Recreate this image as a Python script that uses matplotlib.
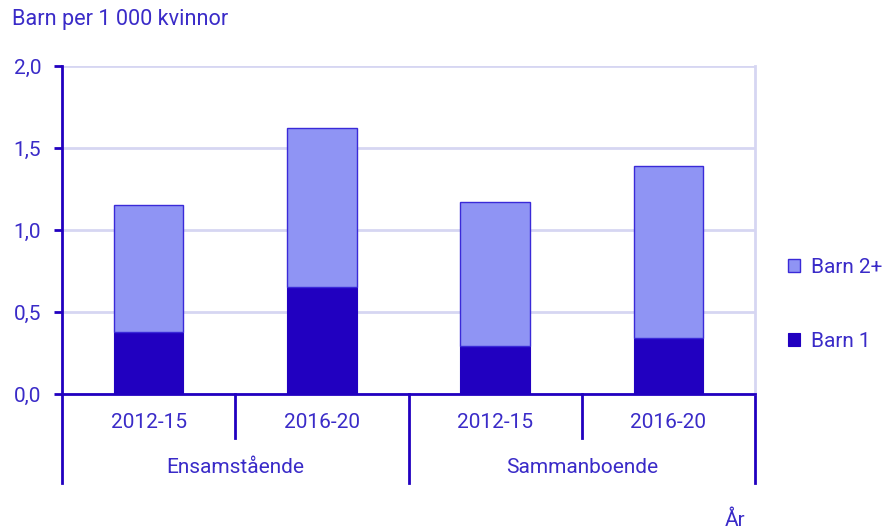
import matplotlib.pyplot as plt
import matplotlib.transforms as mtransforms

plt.rcParams['font.family'] = ['Roboto', 'DejaVu Sans']

# Data
groups = ['Ensamstående', 'Sammanboende']
periods = ['2012-15', '2016-20', '2012-15', '2016-20']
barn1 = [0.38, 0.65, 0.29, 0.34]
barn2plus = [0.77, 0.97, 0.88, 1.05]
yticks = [0.0, 0.5, 1.0, 1.5, 2.0]

dark = '#2100C0'
light = '#8F94F4'
grid = '#D6D6F2'
text_c = '#3A2BC8'
fs = 15

fig = plt.figure(figsize=(8.83, 5.30), dpi=100)
ax = fig.add_axes([62 / 883, 1 - 394 / 530, 693 / 883, 328 / 530])

x = list(range(len(periods)))
ax.bar(x, barn1, width=0.4, color=dark, edgecolor=dark, linewidth=0.8,
       label='Barn 1', zorder=3)
ax.bar(x, barn2plus, width=0.4, bottom=barn1, color=light, edgecolor='#3A2AD8',
       linewidth=1.0, label='Barn 2+', zorder=3)

ax.set_xlim(-0.5, len(periods) - 0.5)
ax.set_ylim(0, 2.0)
ax.set_yticks(yticks)
ax.set_yticklabels([f'{v:.1f}'.replace('.', ',') for v in yticks])
ax.yaxis.grid(True, color=grid, linewidth=2, zorder=0)
ax.set_xticks([])

ax.spines['top'].set_visible(False)
ax.spines['right'].set_color(grid)
ax.spines['right'].set_linewidth(2)
ax.spines['left'].set_color(dark)
ax.spines['left'].set_linewidth(2)
ax.spines['bottom'].set_color(dark)
ax.spines['bottom'].set_linewidth(2)
ax.spines['bottom'].set_zorder(4)
ax.tick_params(axis='y', colors=dark, labelcolor=text_c, labelsize=fs,
               length=6, width=2, pad=9)

# Hierarchical x labels
trans = mtransforms.blended_transform_factory(ax.transData, ax.transAxes)
for i, p in enumerate(periods):
    ax.text(i, -0.088, p, transform=trans, ha='center', va='center',
            color=text_c, fontsize=fs)
for j in range(len(periods) - 1):
    if j % 2 == 0:
        ax.plot([j + 0.5, j + 0.5], [0, -0.134], transform=trans, color=dark,
                linewidth=2, clip_on=False)
for g, name in enumerate(groups):
    ax.text(2 * g + 0.5, -0.223, name, transform=trans, ha='center', va='center',
            color=text_c, fontsize=fs)
for xs in [-0.5, 1.5, 3.5]:
    ax.plot([xs, xs], [0, -0.271], transform=trans, color=dark, linewidth=2,
            clip_on=False)

ax.text(0.971, -0.384, 'År', transform=ax.transAxes, ha='center', va='center',
        color=text_c, fontsize=fs)
fig.text(12 / 883, 1 - 20 / 530, 'Barn per 1 000 kvinnor', ha='left', va='center',
         color=text_c, fontsize=15.6)

handles, labels = ax.get_legend_handles_labels()
leg = ax.legend(handles[::-1], labels[::-1], loc='center left',
                bbox_to_anchor=(1.020, 0.273), frameon=False, fontsize=fs,
                handlelength=0.6, handleheight=0.6, handletextpad=0.5,
                labelspacing=2.65, labelcolor=text_c)

fig.savefig('out.png', dpi=100)
